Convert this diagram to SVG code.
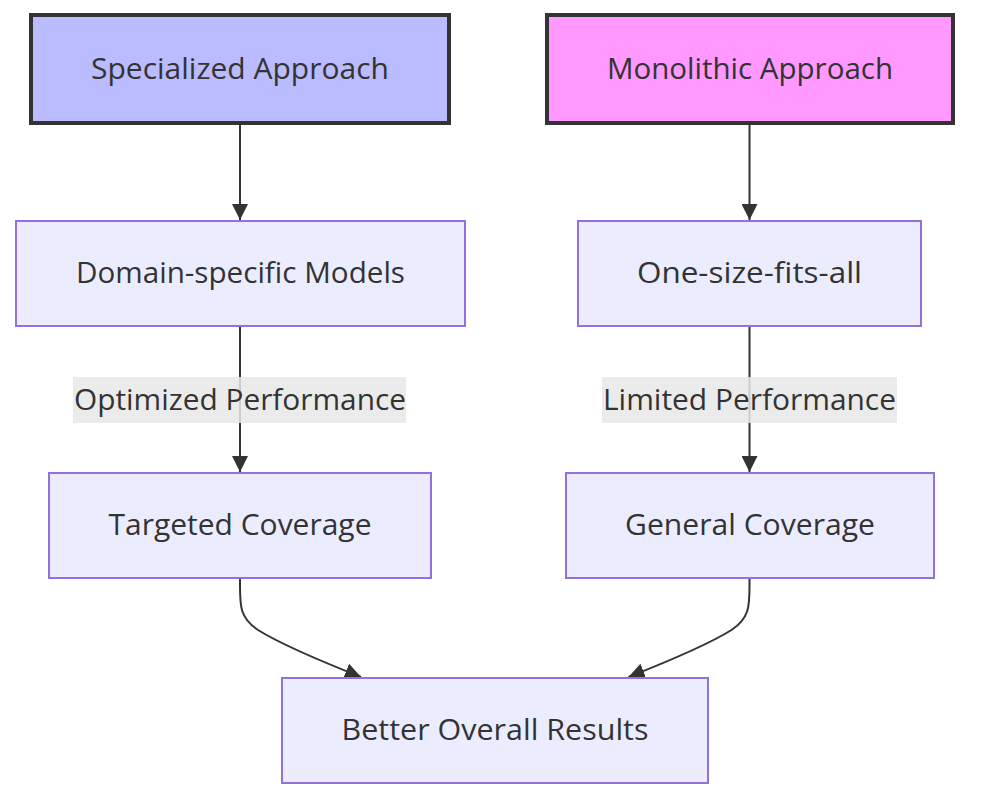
<svg xmlns="http://www.w3.org/2000/svg" width="984" height="812" viewBox="0 0 984 812">
<defs>
<marker id="arrow" viewBox="0 0 10 10" markerUnits="userSpaceOnUse" markerWidth="16" markerHeight="16" refX="10" refY="5" orient="auto">
<path d="M0,0 L10,5 L0,10 z" fill="#333333"/>
</marker>
<style>
.node rect{fill:#ECECFF;stroke:#9370DB;stroke-width:2}
.node text,.lbl text{font-family:"Open Sans","Noto Sans","DejaVu Sans",sans-serif;font-size:30px;fill:#333333;text-anchor:middle}
#specialized rect{fill:#BBBBFF;stroke:#333333;stroke-width:4}
#monolithic rect{fill:#FF99FF;stroke:#333333;stroke-width:4}
.edge{fill:none;stroke:#333333;stroke-width:2;marker-end:url(#arrow)}
.lbl rect{fill:#E8E8E8;opacity:0.85}
</style>
</defs>
<rect width="984" height="812" fill="#ffffff"/>
<g id="connectors">
<path class="edge" d="M240,123 L240,220"/>
<path class="edge" d="M749.5,123 L749.5,220"/>
<path class="edge" d="M240,326 L240,472"/>
<path class="edge" d="M749.5,326 L749.5,472"/>
<path class="edge" d="M240,578 L240,586 C240,606 240,618 258,630 C282,645 318,660 361,677"/>
<path class="edge" d="M749.5,578 L749.5,586 C749.5,606 749.5,618 731.5,630 C707.5,645 671.5,660 628.5,677"/>
<g class="lbl" id="label-optimized">
<rect x="73" y="377" width="333" height="46"/>
<text x="240" y="410" textLength="332" lengthAdjust="spacingAndGlyphs">Optimized Performance</text>
</g>
<g class="lbl" id="label-limited">
<rect x="602" y="377" width="295" height="46"/>
<text x="749.5" y="410" textLength="293" lengthAdjust="spacingAndGlyphs">Limited Performance</text>
</g>
</g>
<g class="node" id="specialized">
<rect x="31" y="15" width="418" height="108"/>
<text x="240" y="79" textLength="298" lengthAdjust="spacingAndGlyphs">Specialized Approach</text>
</g>
<g class="node" id="monolithic">
<rect x="547" y="15" width="406" height="108"/>
<text x="750" y="79" textLength="286" lengthAdjust="spacingAndGlyphs">Monolithic Approach</text>
</g>
<g class="node" id="domain">
<rect x="16" y="221" width="449" height="105"/>
<text x="240.5" y="283" textLength="329" lengthAdjust="spacingAndGlyphs">Domain-specific Models</text>
</g>
<g class="node" id="onesize">
<rect x="578" y="221" width="343" height="105"/>
<text x="749.5" y="283" textLength="225" lengthAdjust="spacingAndGlyphs">One-size-fits-all</text>
</g>
<g class="node" id="targeted">
<rect x="49" y="473" width="382" height="105"/>
<text x="240" y="535" textLength="263" lengthAdjust="spacingAndGlyphs">Targeted Coverage</text>
</g>
<g class="node" id="general">
<rect x="566" y="473" width="368" height="105"/>
<text x="750" y="535" textLength="250" lengthAdjust="spacingAndGlyphs">General Coverage</text>
</g>
<g class="node" id="better">
<rect x="282" y="678" width="426" height="105"/>
<text x="495" y="740" textLength="307" lengthAdjust="spacingAndGlyphs">Better Overall Results</text>
</g>
</svg>
